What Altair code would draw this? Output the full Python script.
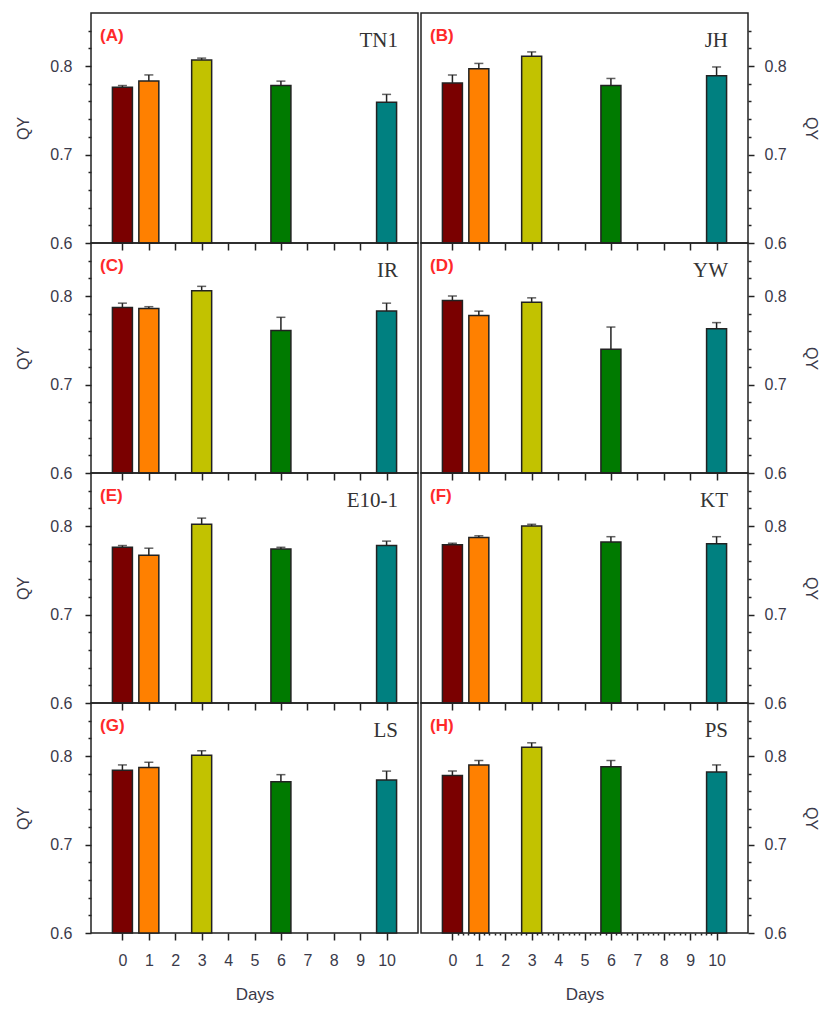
import altair as alt
import pandas as pd

days = [0, 1, 3, 6, 10]
bar_colors = ["#7A0000", "#FF8000", "#C2C200", "#007A00", "#008080"]
panel_tags = ["(A)", "(B)", "(C)", "(D)", "(E)", "(F)", "(G)", "(H)"]
cultivars = ["TN1", "JH", "IR", "YW", "E10-1", "KT", "LS", "PS"]

qy_TN1 = [0.776, 0.783, 0.807, 0.778, 0.759]
err_TN1 = [0.002, 0.007, 0.002, 0.005, 0.009]
qy_JH = [0.781, 0.797, 0.811, 0.778, 0.789]
err_JH = [0.009, 0.006, 0.005, 0.008, 0.010]
qy_IR = [0.787, 0.786, 0.806, 0.761, 0.783]
err_IR = [0.005, 0.002, 0.005, 0.015, 0.009]
qy_YW = [0.795, 0.778, 0.793, 0.740, 0.763]
err_YW = [0.005, 0.005, 0.005, 0.025, 0.007]
qy_E10 = [0.776, 0.767, 0.802, 0.774, 0.778]
err_E10 = [0.002, 0.008, 0.007, 0.002, 0.005]
qy_KT = [0.779, 0.787, 0.800, 0.782, 0.780]
err_KT = [0.0015, 0.002, 0.002, 0.006, 0.008]
qy_LS = [0.784, 0.787, 0.801, 0.771, 0.773]
err_LS = [0.006, 0.006, 0.005, 0.008, 0.010]
qy_PS = [0.778, 0.790, 0.810, 0.788, 0.782]
err_PS = [0.005, 0.005, 0.005, 0.007, 0.008]

qy_values = [qy_TN1, qy_JH, qy_IR, qy_YW, qy_E10, qy_KT, qy_LS, qy_PS]
err_values = [err_TN1, err_JH, err_IR, err_YW, err_E10, err_KT, err_LS, err_PS]

y_ticks = [round(0.6 + 0.02 * k, 2) for k in range(13)]
W, H = 327, 230
INK = "#222222"
LABEL_C = "#3a3a4a"

y_major = "abs(datum.value*10 - round(datum.value*10)) < 0.001"
x_major = "abs(datum.value - round(datum.value)) < 0.001"


def make_panel(i):
    col = i % 2
    bottom = i >= 6
    side = "left" if col == 0 else "right"
    qy, err = qy_values[i], err_values[i]
    df = pd.DataFrame({
        "day": days,
        "qy": qy,
        "top": [round(q + e, 4) for q, e in zip(qy, err)],
        "c": bar_colors,
    })
    if bottom and col == 1:
        xvals = [round(k * 0.2, 2) for k in range(51)]
    else:
        xvals = list(range(11))
    xaxis_kw = dict(
        values=xvals,
        labels=bottom,
        tickSize={"condition": {"test": x_major, "value": 7}, "value": 2},
        tickColor=INK,
        tickWidth=1.5,
        domain=False,
        grid=False,
        labelFlush=False,
        labelOverlap=False,
        labelPadding=12,
        labelExpr=f"{x_major} ? format(datum.value, 'd') : ''",
    )
    if bottom:
        xaxis_kw["title"] = "Days"
        xaxis_kw["titlePadding"] = 18
    else:
        xaxis_kw["title"] = None
    xenc = alt.X("day:Q", scale=alt.Scale(domain=[-1, 11], nice=False, zero=False),
                 axis=alt.Axis(**xaxis_kw))
    yaxis = alt.Axis(
        orient=side,
        values=y_ticks,
        labelExpr=f"{y_major} ? format(datum.value, '.1f') : ''",
        tickSize={"condition": {"test": y_major, "value": 6}, "value": 3},
        tickColor=INK,
        tickWidth=1.5,
        labelPadding=13 if side == "left" else 10,
        labelFlush=False,
        labelOverlap=False,
        domain=False,
        grid=False,
        title="QY",
        titlePadding=18 if side == "left" else 16,
    )
    yscale = alt.Scale(domain=[0.6, 0.86], nice=False, zero=False)
    base = alt.Chart(df)
    bars = base.mark_bar(size=20, stroke=INK, strokeWidth=1.5).encode(
        x=xenc,
        y=alt.Y("qy:Q", scale=yscale, axis=yaxis),
        y2=alt.datum(0.6),
        color=alt.Color("c:N", scale=None),
    )
    rule = base.mark_rule(color=INK, strokeWidth=1.5).encode(
        x=xenc,
        y=alt.Y("qy:Q", scale=yscale, axis=yaxis),
        y2="top:Q",
    )
    cap = base.mark_tick(orient="horizontal", size=9, thickness=1.5, color=INK).encode(
        x=xenc,
        y=alt.Y("top:Q", scale=yscale, axis=yaxis),
    )
    tag = alt.Chart(pd.DataFrame({"t": [panel_tags[i]]})).mark_text(
        align="left", baseline="middle", font="Liberation Sans", fontWeight="bold",
        fontSize=17, color="#FF2A2A",
    ).encode(text="t:N", x=alt.value(9), y=alt.value(23))
    name = alt.Chart(pd.DataFrame({"t": [cultivars[i]]})).mark_text(
        align="right", baseline="middle", font="Liberation Serif",
        fontSize=21, color="#333333",
    ).encode(text="t:N", x=alt.value(W - 20), y=alt.value(28))
    return alt.layer(bars, rule, cap, tag, name).properties(width=W, height=H)


panels = [make_panel(i) for i in range(8)]

chart = alt.concat(
    *panels, columns=2, spacing={"row": 0, "column": 3}, bounds="flush"
).properties(
    padding={"left": 7, "top": 4, "right": 0, "bottom": 0}
).configure_view(
    stroke=INK, strokeWidth=1.5
).configure_axis(
    labelFont="Liberation Sans", labelFontSize=16, labelColor=LABEL_C,
    titleFont="Liberation Sans", titleFontSize=16, titleColor=LABEL_C,
    titleFontWeight="normal",
).configure_axisBottom(
    titleFontSize=17
)

chart.save("out.html", embed_options={"renderer": "svg", "actions": False})
